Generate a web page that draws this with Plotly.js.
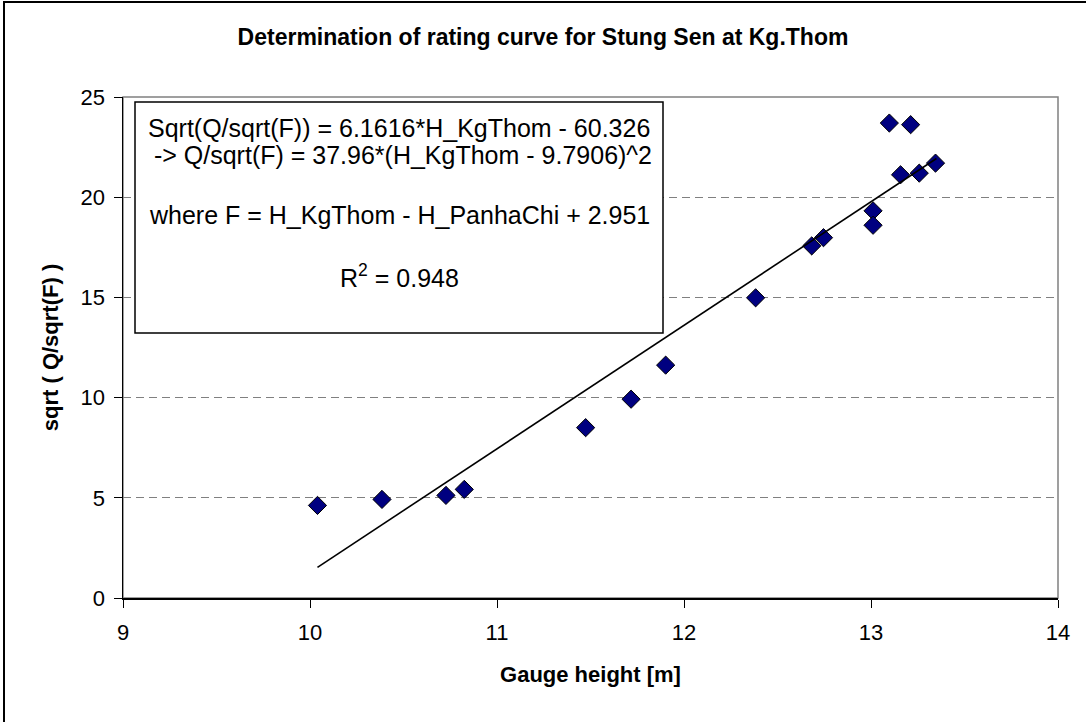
<!DOCTYPE html>
<html>
<head>
<meta charset="utf-8">
<script src="https://cdn.plot.ly/plotly-3.0.1.min.js"></script>
<style>
  html, body { margin: 0; padding: 0; background: #ffffff; }
  #chart { width: 1086px; height: 722px; }
</style>
</head>
<body>
<div id="chart"></div>
<script>
// ---- Data ----
const gaugeHeight = [10.04, 10.385, 10.727, 10.825, 11.474, 11.717, 11.902, 12.383, 12.683, 12.746, 13.011, 13.011, 13.098, 13.212, 13.158, 13.258, 13.345];
const sqrtQF      = [4.62, 4.92, 5.12, 5.42, 8.50, 9.92, 11.62, 14.98, 17.57, 17.98, 19.32, 18.60, 23.70, 23.62, 21.12, 21.20, 21.70];
const trendX = [10.04, 13.35];
const trendY = [1.53, 21.93];
const xTicks = [9, 10, 11, 12, 13, 14];
const yTicks = [0, 5, 10, 15, 20, 25];
const titleText = "Determination of rating curve for Stung Sen at Kg.Thom";
const xTitle = "Gauge height [m]";
const yTitle = "sqrt ( Q/sqrt(F) )";
const eqLines = [
  "Sqrt(Q/sqrt(F)) = 6.1616*H_KgThom - 60.326",
  " -> Q/sqrt(F) = 37.96*(H_KgThom - 9.7906)^2",
  "where F = H_KgThom - H_PanhaChi + 2.951",
  "R<sup>2</sup> = 0.948"
];

// ---- Layout geometry (pixels) ----
const W = 1086, H = 722;
const mL = 123, mR = 28, mT = 97, mB = 124;
const pw = W - mL - mR, ph = H - mT - mB;
const px2x = p => (p - mL) / pw;          // pixel x -> paper x
const py2y = p => (H - mB - p) / ph;      // pixel y -> paper y

const FONT = "Arial, 'Liberation Sans', sans-serif";

const traces = [
  {
    x: gaugeHeight, y: sqrtQF, type: 'scatter', mode: 'markers',
    marker: { symbol: 'diamond', size: 14, color: '#000080', line: { color: '#000000', width: 1 } },
    showlegend: false, hoverinfo: 'x+y'
  },
  {
    x: trendX, y: trendY, type: 'scatter', mode: 'lines',
    line: { color: '#000000', width: 1.6 },
    showlegend: false, hoverinfo: 'skip'
  }
];

const eqY = [128, 155, 215, 276];
const annotations = eqLines.map((t, i) => ({
  text: t, xref: 'paper', yref: 'paper',
  x: px2x(399), y: py2y(eqY[i]), xanchor: 'center', yanchor: 'middle',
  showarrow: false, font: { family: FONT, size: 25, color: '#000000' }
}));

const layout = {
  width: W, height: H,
  margin: { l: mL, r: mR, t: mT, b: mB, pad: 0 },
  paper_bgcolor: '#ffffff', plot_bgcolor: '#ffffff',
  title: {
    text: '<b>' + titleText + '</b>',
    font: { family: FONT, size: 23, color: '#000000' },
    x: 0.5, xref: 'container', xanchor: 'center',
    y: 1 - 37 / H, yref: 'container', yanchor: 'middle'
  },
  xaxis: {
    range: [9, 14], tickvals: xTicks, ticktext: xTicks.map(String),
    ticks: 'outside', ticklen: 8, tickcolor: '#000000', tickwidth: 1,
    ticklabelstandoff: 6,
    showline: true, linecolor: '#000000', linewidth: 1.5, mirror: false,
    showgrid: false, zeroline: false,
    tickfont: { family: FONT, size: 22, color: '#000000' },
    title: { text: '<b>' + xTitle + '</b>', font: { family: FONT, size: 22, color: '#000000' }, standoff: 22 }
  },
  yaxis: {
    range: [0, 25], tickvals: yTicks, ticktext: yTicks.map(String),
    ticks: 'outside', ticklen: 8, tickcolor: '#000000', tickwidth: 1,
    ticklabelstandoff: 4,
    showline: true, linecolor: '#000000', linewidth: 1.5, mirror: false,
    showgrid: true, gridcolor: '#808080', gridwidth: 1, griddash: '8px,5px',
    zeroline: false,
    tickfont: { family: FONT, size: 22, color: '#000000' },
    title: { text: '<b>' + yTitle + '</b>', font: { family: FONT, size: 22, color: '#000000' }, standoff: 16 }
  },
  shapes: [
    // plot-area frame (grey top/right)
    { type: 'rect', xref: 'paper', yref: 'paper', x0: 0, x1: 1, y0: 0, y1: 1,
      line: { color: '#808080', width: 1.5 }, layer: 'below' },
    // equation box
    { type: 'rect', xref: 'paper', yref: 'paper',
      x0: px2x(135), x1: px2x(663), y0: py2y(333), y1: py2y(102),
      line: { color: '#000000', width: 1.5 }, fillcolor: '#ffffff', layer: 'above' },
    // outer chart border (right/bottom edges fall outside the picture)
    { type: 'rect', xref: 'paper', yref: 'paper',
      x0: px2x(4), x1: px2x(1092), y0: py2y(730), y1: py2y(2),
      line: { color: '#000000', width: 2 }, layer: 'below' }
  ],
  annotations: annotations,
  showlegend: false
};

Plotly.newPlot('chart', traces, layout, { staticPlot: true, displayModeBar: false });
</script>
</body>
</html>
